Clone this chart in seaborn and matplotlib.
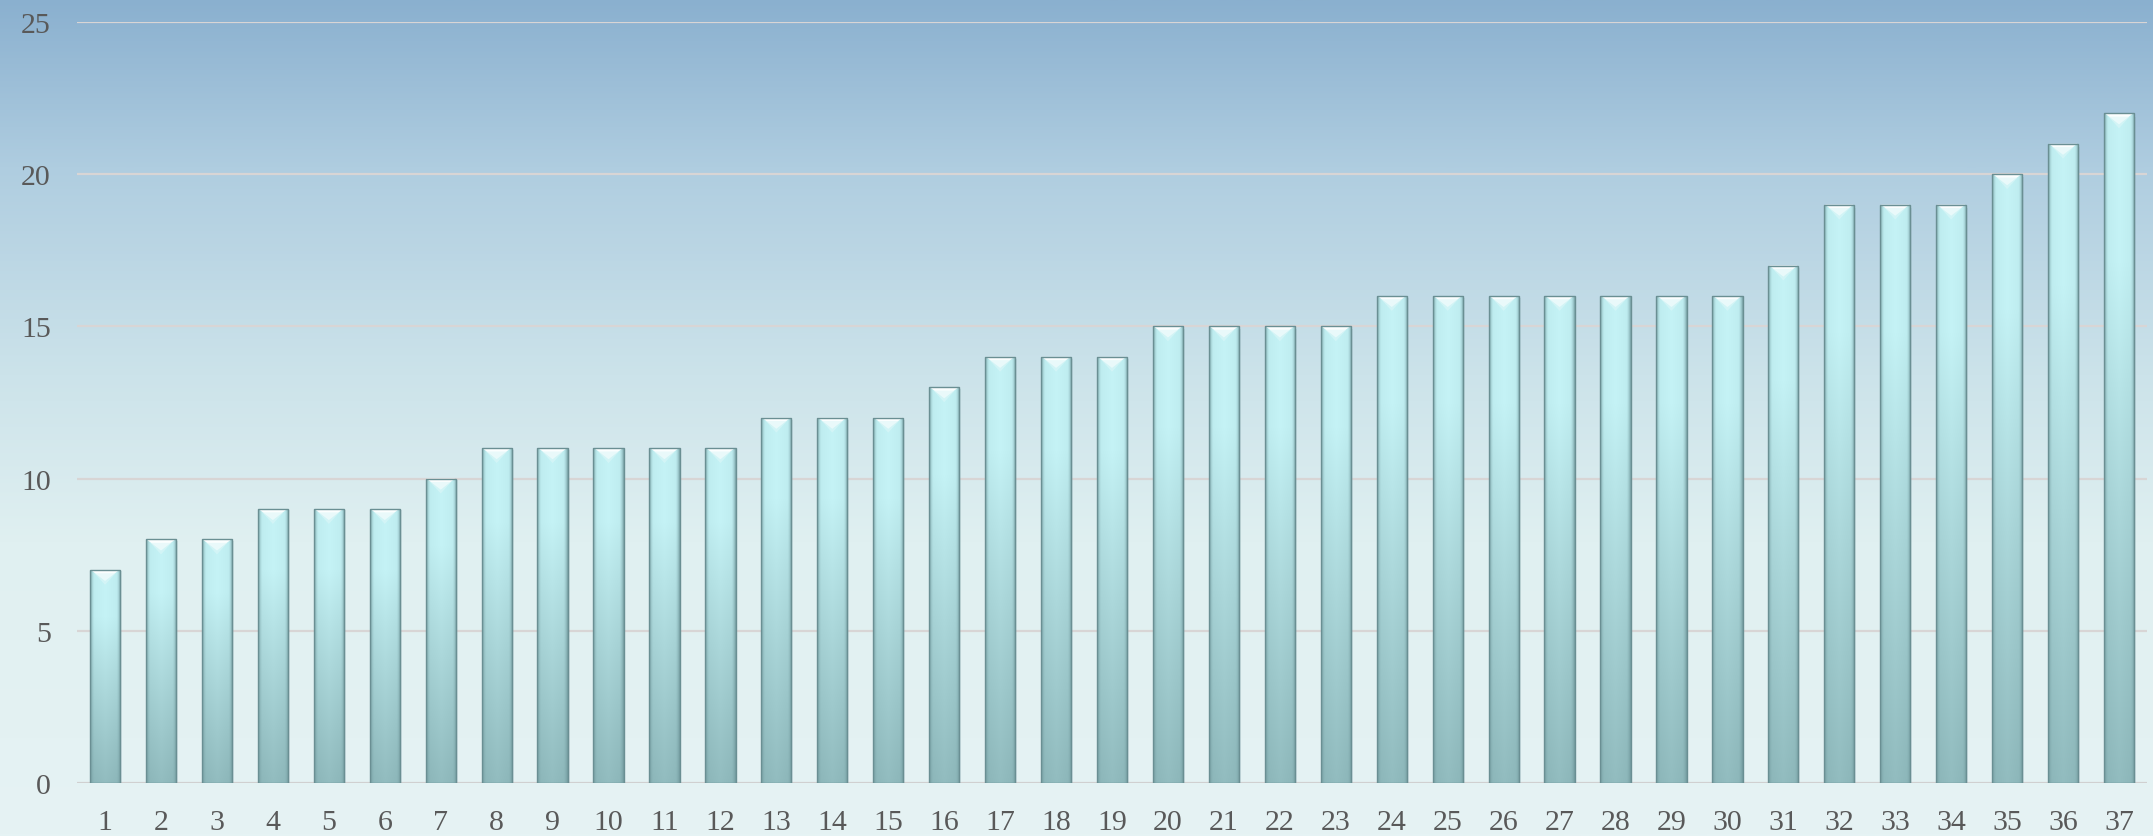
import numpy as np
import pandas as pd
import matplotlib
matplotlib.use("Agg")
import matplotlib.pyplot as plt
import seaborn as sns
from matplotlib.colors import LinearSegmentedColormap, to_rgb
from matplotlib.patches import Polygon

# dane z wykresu
categories = [str(i) for i in range(1, 38)]
values = [7, 8, 8, 9, 9, 9, 10, 11, 11, 11, 11, 11, 12, 12, 12, 13, 14, 14, 14,
          15, 15, 15, 15, 16, 16, 16, 16, 16, 16, 16, 17, 19, 19, 19, 20, 21, 22]
y_ticks = [0, 5, 10, 15, 20, 25]

df = pd.DataFrame({"kat": categories, "wartosc": values})

sns.set_theme(style="white")
plt.rcParams["font.family"] = ["Liberation Serif", "DejaVu Serif"]

fig = plt.figure(figsize=(21.53, 8.37), dpi=100)

# tło - pionowy gradient na całej figurze
bg_ax = fig.add_axes([0, 0, 1, 1], zorder=-10)
bg_cmap = LinearSegmentedColormap.from_list(
    "bg", [(0.0, "#E6F3F4"), (0.35, "#E0F0F1"), (0.55, "#CCE3EA"),
           (0.8, "#AFCDE0"), (1.0, "#8AB0CF")])
grad = np.linspace(0, 1, 512).reshape(-1, 1)
bg_ax.imshow(grad, aspect="auto", cmap=bg_cmap, origin="lower", extent=[0, 1, 0, 1])
bg_ax.set_axis_off()

ax = fig.add_axes([0.0358, 0.0633, 0.9614, 0.9092])
ax.set_facecolor("none")

sns.barplot(data=df, x="kat", y="wartosc", color="#A9D6D9", width=0.54,
            edgecolor="#6A8F93", linewidth=1.0, ax=ax, zorder=3)

ax.set_ylim(0, 25)
ax.set_yticks(y_ticks)
ax.set_xlim(-0.5, len(categories) - 0.5)
ax.yaxis.grid(True, color="#D8D5D5", linewidth=1.6, zorder=0)
ax.xaxis.grid(False)
for s in ax.spines.values():
    s.set_visible(False)
ax.axhline(0, color="#D0D0D0", linewidth=2.0, zorder=2)

ax.tick_params(axis="both", length=0, labelsize=21.5, labelcolor="#595959")
ax.tick_params(axis="y", pad=19)
ax.tick_params(axis="x", pad=19)
ax.set_xlabel("")
ax.set_ylabel("")

# gradient na słupkach
top_c = np.array(to_rgb("#BDEBEE"))
bot_c = np.array(to_rgb("#8BB5B8"))
edge_c = np.array(to_rgb("#6E969A"))
ny, nx = 200, 60
t = np.linspace(0, 1, ny)[:, None]          # 0 = dół, 1 = góra
u = np.linspace(-1, 1, nx)[None, :]
vert = np.clip(t / 0.78, 0, 1) ** 1.1
base = bot_c[None, None, :] * (1 - vert[..., None]) + top_c[None, None, :] * vert[..., None]
edge_w = np.clip((np.abs(u) - 0.72) / 0.28, 0, 1) ** 1.6
bar_img = base * (1 - 0.8 * edge_w[..., None]) + edge_c[None, None, :] * 0.8 * edge_w[..., None]
bar_img = np.clip(bar_img + 0.03 * (1 - np.abs(u))[..., None], 0, 1)

chev = 25 * 11 / (0.9092 * 837)   # ~11 px w jednostkach danych
for p in list(ax.patches):
    x0, w, h = p.get_x(), p.get_width(), p.get_height()
    im = ax.imshow(bar_img, aspect="auto", origin="lower",
                   extent=[x0, x0 + w, 0, h], zorder=4, interpolation="bilinear")
    im.set_clip_path(p)
    # cień po prawej
    ax.add_patch(plt.Rectangle((x0 + w, 0), w * 0.06, h * 0.995, color="#7FA0A8",
                               alpha=0.2, zorder=2, linewidth=0))
    # biały szewron na górze
    ax.add_patch(Polygon([(x0 + w * 0.03, h), (x0 + w * 0.97, h), (x0 + w * 0.5, h - chev)],
                         closed=True, facecolor="white", edgecolor="none",
                         alpha=0.95, zorder=5))
    ax.add_patch(Polygon([(x0 + w * 0.15, h - chev * 0.3), (x0 + w * 0.85, h - chev * 0.3),
                          (x0 + w * 0.5, h - chev * 1.35)],
                         closed=True, facecolor="#DDF7F8", edgecolor="none",
                         alpha=0.6, zorder=5))
    p.set_zorder(6)
    p.set_facecolor("none")

ax.set_xlim(-0.5, len(categories) - 0.5)
ax.set_ylim(0, 25)

fig.savefig("out.png", dpi=100)
